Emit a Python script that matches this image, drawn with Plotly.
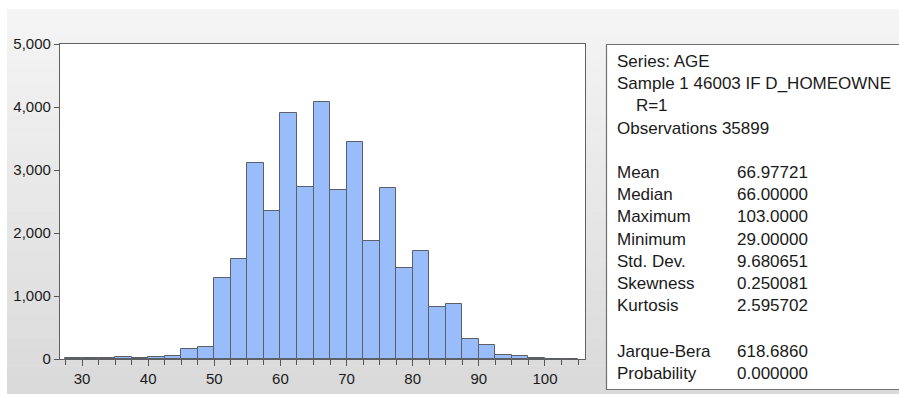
import plotly.graph_objects as go
import numpy as np

# ---- data ----
bin_start = 27.5
bin_width = 2.5
counts = [10, 10, 10, 30, 20, 35, 50, 156, 193, 1283, 1595, 3119, 2357, 3908,
          2733, 4083, 2686, 3439, 1874, 2712, 1438, 1714, 822, 875, 313, 228,
          66, 40, 10, 5, 5]
bin_centers = [bin_start + bin_width * (i + 0.5) for i in range(len(counts))]

y_ticks = [0, 1000, 2000, 3000, 4000, 5000]
x_ticks = [30, 40, 50, 60, 70, 80, 90, 100]

header_lines = ["Series: AGE", "Sample 1 46003 IF D_HOMEOWNE", "    R=1", "Observations 35899"]
stat_names = ["Mean", "Median", "Maximum", "Minimum", "Std. Dev.", "Skewness", "Kurtosis"]
stat_values = ["66.97721", "66.00000", "103.0000", "29.00000", "9.680651", "0.250081", "2.595702"]
test_names = ["Jarque-Bera", "Probability"]
test_values = ["618.6860", "0.000000"]

# ---- layout geometry (pixels) ----
W, H = 899, 394
L, R, T, B = 60, 585, 44, 359
pw, ph = R - L, B - T

def px(x):
    return (x - L) / pw

def py(y):
    return (B - y) / ph

fig = go.Figure()
fig.add_trace(go.Bar(
    x=bin_centers, y=counts, width=bin_width,
    marker=dict(color="#99bdfb", line=dict(color="#5a5f68", width=1)),
    showlegend=False, hoverinfo="x+y",
))

shapes = []
# background gradient panel
n = 40
top_c = np.array([245, 245, 245])
bot_c = np.array([218, 218, 218])
y0p, y1p = 9, H
for i in range(n):
    a = y0p + (y1p - y0p) * i / n
    b = y0p + (y1p - y0p) * (i + 1) / n
    c = top_c + (bot_c - top_c) * (i / (n - 1))
    col = "rgb(%d,%d,%d)" % tuple(c.astype(int))
    shapes.append(dict(type="rect", xref="paper", yref="paper", layer="below",
                       x0=px(7), x1=px(W + 5), y0=py(b + 0.5), y1=py(a),
                       fillcolor=col, line=dict(width=0)))
# plot area white
shapes.append(dict(type="rect", xref="paper", yref="paper", layer="below",
                   x0=0, x1=1, y0=0, y1=1, fillcolor="white", line=dict(width=0)))
# stats box
shapes.append(dict(type="rect", xref="paper", yref="paper", layer="below",
                   x0=px(606.5), x1=px(W + 10), y0=py(389.5), y1=py(44.5),
                   fillcolor="white", line=dict(color="#707070", width=1.2)))

annotations = []
font = dict(family="Liberation Sans, Arial", size=17, color="#1a1a1a")
header_y = [61, 83, 105, 128]
for t, yy in zip(header_lines, header_y):
    annotations.append(dict(xref="paper", yref="paper", x=px(615), y=py(yy),
                            text=t.replace(" ", "&nbsp;") if t.startswith(" ") else t,
                            showarrow=False, xanchor="left", yanchor="middle", font=font))
stat_y = [172, 194, 216, 239, 261, 283, 305]
for nme, val, yy in zip(stat_names, stat_values, stat_y):
    annotations.append(dict(xref="paper", yref="paper", x=px(615), y=py(yy), text=nme,
                            showarrow=False, xanchor="left", yanchor="middle", font=font))
    annotations.append(dict(xref="paper", yref="paper", x=px(735), y=py(yy), text=val,
                            showarrow=False, xanchor="left", yanchor="middle", font=font))
test_y = [351, 373]
for nme, val, yy in zip(test_names, test_values, test_y):
    annotations.append(dict(xref="paper", yref="paper", x=px(615), y=py(yy), text=nme,
                            showarrow=False, xanchor="left", yanchor="middle", font=font))
    annotations.append(dict(xref="paper", yref="paper", x=px(735), y=py(yy), text=val,
                            showarrow=False, xanchor="left", yanchor="middle", font=font))

axfont = dict(family="Liberation Sans, Arial", size=15, color="#1a1a1a")
fig.update_layout(
    width=W, height=H,
    margin=dict(l=L, r=W - R, t=T, b=H - B, autoexpand=False),
    paper_bgcolor="white", plot_bgcolor="rgba(0,0,0,0)",
    bargap=0,
    shapes=shapes, annotations=annotations,
    xaxis=dict(range=[26.67, 106.05], tickvals=x_ticks, ticktext=[str(v) for v in x_ticks],
               ticks="outside", ticklen=6, tickcolor="#555", showgrid=False, zeroline=False,
               showline=True, linecolor="#606060", linewidth=1.2, mirror=True,
               tickfont=axfont,
               minor=dict(tickvals=[bin_start + bin_width * i for i in range(len(counts) + 1)],
                          ticks="outside", ticklen=5, tickcolor="#555")),
    yaxis=dict(range=[0, 5000], tickvals=y_ticks, tickformat=",", ticks="outside",
               ticklen=5, tickcolor="#555", showgrid=False, zeroline=False,
               showline=True, linecolor="#606060", linewidth=1.2, mirror=True,
               tickfont=axfont),
)

fig.write_html("out.html")
